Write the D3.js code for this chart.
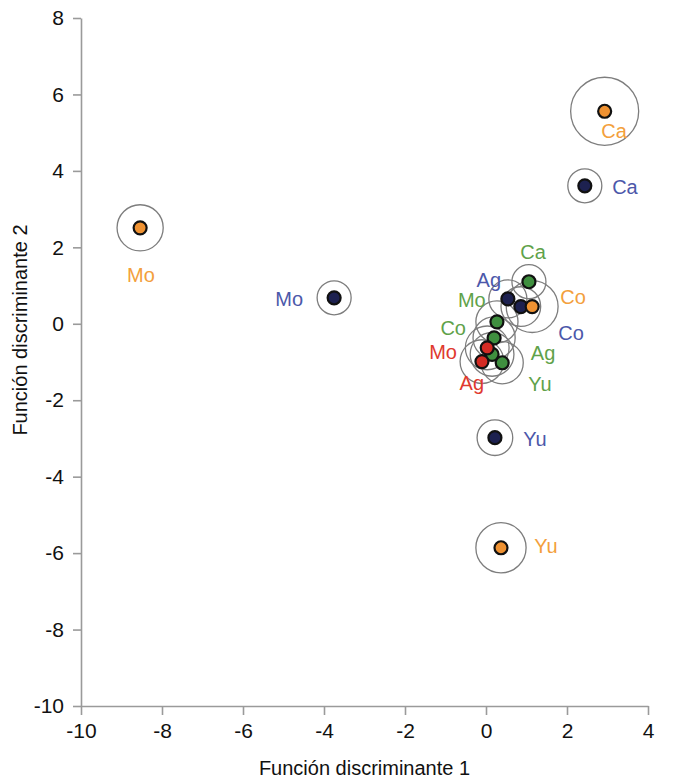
<!DOCTYPE html>
<html>
<head>
<meta charset="utf-8">
<script src="https://cdn.jsdelivr.net/npm/d3@7"></script>
<style>
  body { margin: 0; background: #fff; }
  text { font-family: "Liberation Sans", Arial, Helvetica, sans-serif; }
</style>
</head>
<body>
<div id="chart"></div>
<script>
var svgWidth = 673;
var svgHeight = 779;

// group labels, colour series and centroid scores
var names  = ["Ca", "Ca", "Mo", "Mo", "Yu", "Yu", "Ca", "Ag", "Co", "Co", "Mo", "Co", "Yu", "Mo", "Ag", "Ag"];
var series = ["naranja", "azul", "naranja", "azul", "azul", "naranja", "verde", "azul", "azul", "naranja", "verde", "verde", "verde", "rojo", "rojo", "verde"];
var func1  = [2.93, 2.44, -8.54, -3.75, 0.22, 0.37, 1.06, 0.54, 0.86, 1.14, 0.27, 0.20, 0.15, 0.03, -0.10, 0.40];
var func2  = [5.56, 3.61, 2.51, 0.68, -2.98, -5.86, 1.10, 0.65, 0.45, 0.45, 0.05, -0.37, -0.80, -0.63, -0.99, -1.02];
// radius of the ring around each centroid, in units of function 1
var spread = [0.84, 0.42, 0.57, 0.42, 0.44, 0.62, 0.42, 0.47, 0.49, 0.64, 0.52, 0.52, 0.54, 0.54, 0.54, 0.52];
// where each group name sits, in score units
var labelF1 = [3.16, 3.43, -8.52, -4.86, 1.21, 1.48, 1.16, 0.07, 2.10, 2.15, -0.35, -0.81, 1.33, -1.06, -0.35, 1.41];
var labelF2 = [5.05, 3.59, 1.28, 0.65, -3.01, -5.81, 1.88, 1.15, -0.24, 0.71, 0.63, -0.10, -1.57, -0.73, -1.54, -0.76];

var xTicks = [-10, -8, -6, -4, -2, 0, 2, 4];
var yTicks = [-10, -8, -6, -4, -2, 0, 2, 4, 6, 8];

var seriesNames = ["naranja", "azul", "verde", "rojo"];
var pointFill = ["#ef9232", "#1d2150", "#3f8f3f", "#d42b24"];
var labelFill = ["#f3a03c", "#4c58aa", "#5fa24a", "#e0392e"];

var svg = d3.select("#chart")
  .append("svg")
  .attr("width", svgWidth)
  .attr("height", svgHeight);

var x = d3.scaleLinear().domain([-10, 4]).range([81, 648]);
var y = d3.scaleLinear().domain([-10, 8]).range([706, 18]);

var fillScale = d3.scaleOrdinal().domain(seriesNames).range(pointFill);
var labelScale = d3.scaleOrdinal().domain(seriesNames).range(labelFill);

var rows = names.map(function(n, i) {
  return { name: n, s: series[i], f1: func1[i], f2: func2[i], r: spread[i], lx: labelF1[i], ly: labelF2[i] };
});

// plain hyphen for negatives, like the original
var fmt = function(d) { return String(d); };

// axes
var xAxis = svg.append("g")
  .attr("transform", "translate(0," + y(-10) + ")")
  .call(d3.axisBottom(x).tickValues(xTicks).tickFormat(fmt).tickSize(9).tickSizeOuter(0).tickPadding(8));
var yAxis = svg.append("g")
  .attr("transform", "translate(" + x(-10) + ",0)")
  .call(d3.axisLeft(y).tickValues(yTicks).tickFormat(fmt).tickSize(8).tickSizeOuter(0).tickPadding(9));

[xAxis, yAxis].forEach(function(a) {
  a.select(".domain").attr("stroke", "#9a9a9a").attr("stroke-width", 1.6);
  a.selectAll(".tick line").attr("stroke", "#9a9a9a").attr("stroke-width", 1.6);
  a.selectAll(".tick text")
    .attr("fill", "#111")
    .style("font-size", "21px")
    .style("font-family", "'Liberation Sans', Arial, sans-serif");
});

// axis titles
svg.append("text")
  .attr("x", (x(-10) + x(4)) / 2)
  .attr("y", 775)
  .attr("text-anchor", "middle")
  .style("font-size", "20px")
  .attr("fill", "#111")
  .text("Función discriminante 1");

svg.append("text")
  .attr("transform", "translate(27,330) rotate(-90)")
  .attr("text-anchor", "middle")
  .style("font-size", "20px")
  .attr("fill", "#111")
  .text("Función discriminante 2");

// rings
svg.append("g")
  .selectAll("circle")
  .data(rows)
  .enter()
  .append("circle")
  .attr("cx", function(d) { return x(d.f1); })
  .attr("cy", function(d) { return y(d.f2); })
  .attr("r", function(d) { return x(d.r) - x(0); })
  .attr("fill", "none")
  .attr("stroke", "#7d7d7d")
  .attr("stroke-width", 1.3);

// centroids
svg.append("g")
  .selectAll("circle")
  .data(rows)
  .enter()
  .append("circle")
  .attr("cx", function(d) { return x(d.f1); })
  .attr("cy", function(d) { return y(d.f2); })
  .attr("r", 6.5)
  .attr("fill", function(d) { return fillScale(d.s); })
  .attr("stroke", "#111")
  .attr("stroke-width", 2.2);

// group names
svg.append("g")
  .selectAll("text")
  .data(rows)
  .enter()
  .append("text")
  .attr("x", function(d) { return x(d.lx); })
  .attr("y", function(d) { return y(d.ly); })
  .attr("text-anchor", "middle")
  .attr("dominant-baseline", "central")
  .style("font-size", "20px")
  .attr("fill", function(d) { return labelScale(d.s); })
  .text(function(d) { return d.name; });
</script>
</body>
</html>
